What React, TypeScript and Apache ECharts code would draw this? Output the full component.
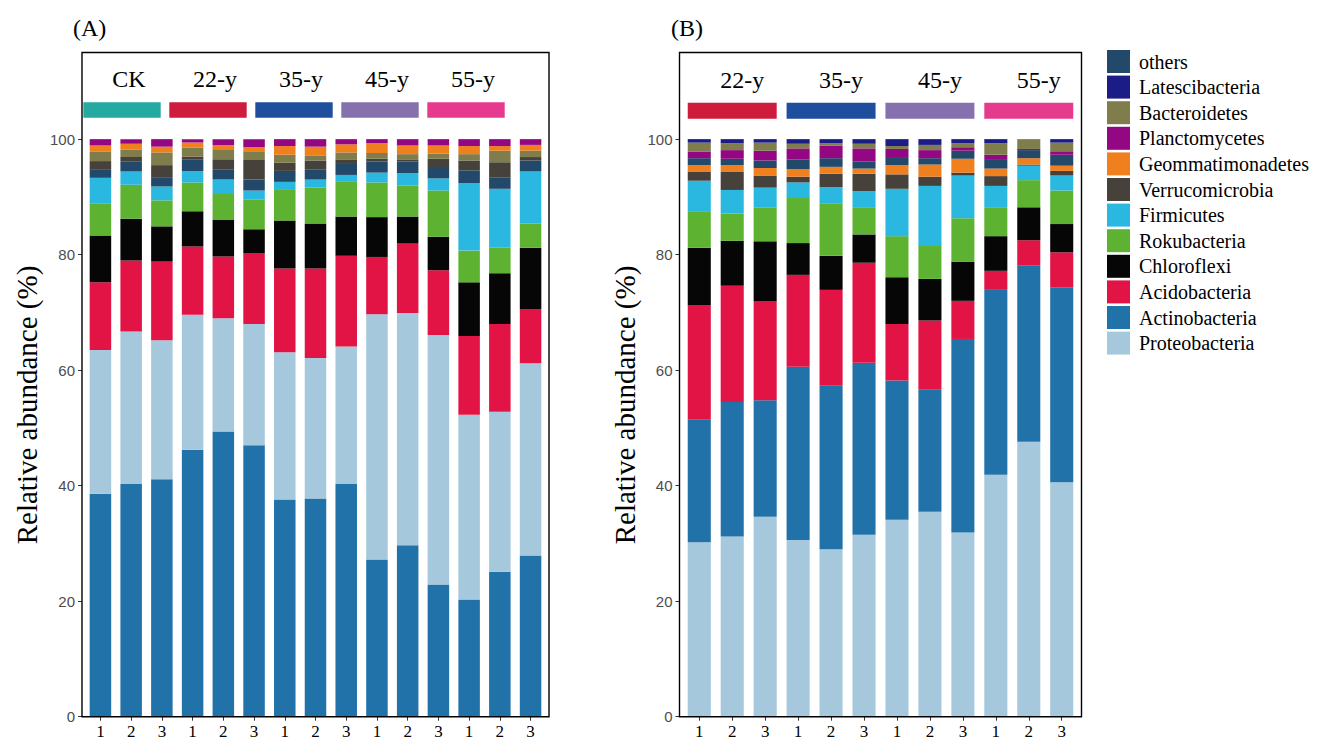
import React, { useEffect, useRef } from "react";
import * as echarts from "echarts";

// ---------- data ----------
// Panel (A): 15 samples (CK, 22-y, 35-y, 45-y, 55-y; three replicates each)
const samplesA = [
  "CK-1", "CK-2", "CK-3", "22-y-1", "22-y-2", "22-y-3", "35-y-1", "35-y-2", "35-y-3",
  "45-y-1", "45-y-2", "45-y-3", "55-y-1", "55-y-2", "55-y-3",
];
const replicateA = ["1", "2", "3", "1", "2", "3", "1", "2", "3", "1", "2", "3", "1", "2", "3"];
const groupsA = ["CK", "22-y", "35-y", "45-y", "55-y"];

const actinobacteriaA = [38.6, 40.3, 41.1, 46.2, 49.4, 47.0, 37.6, 37.8, 40.3, 27.2, 29.7, 22.9, 20.3, 25.1, 27.9];
const proteobacteriaA = [24.9, 26.4, 24.1, 23.4, 19.6, 21.0, 25.5, 24.3, 23.8, 42.5, 40.2, 43.2, 32.0, 27.7, 33.3];
const acidobacteriaA = [11.7, 12.3, 13.6, 11.8, 10.7, 12.3, 14.5, 15.5, 15.7, 9.9, 12.1, 11.2, 13.6, 15.2, 9.4];
const chloroflexiA = [8.1, 7.2, 6.1, 6.1, 6.3, 4.1, 8.3, 7.8, 6.8, 6.9, 4.6, 5.8, 9.3, 8.8, 10.6];
const rokubacteriaA = [5.5, 5.9, 4.5, 5.0, 4.5, 5.1, 5.3, 6.2, 6.0, 6.0, 5.4, 8.0, 5.5, 4.4, 4.2];
const firmicutesA = [4.5, 2.3, 2.4, 2.0, 2.5, 1.6, 1.4, 1.4, 1.2, 1.7, 2.1, 2.1, 11.7, 10.2, 9.0];
const othersA = [1.5, 1.7, 1.5, 2.0, 1.8, 1.9, 1.9, 1.7, 1.9, 1.9, 2.0, 1.8, 2.2, 2.0, 1.9];
const verrucomicrobiaA = [1.4, 0.8, 2.2, 0.5, 1.7, 3.4, 1.4, 1.6, 0.8, 0.5, 0.3, 1.6, 1.7, 2.6, 0.6];
const bacteroidetesA = [1.6, 1.3, 2.2, 1.5, 1.6, 1.5, 1.4, 0.8, 1.2, 1.0, 1.0, 0.9, 1.1, 2.0, 1.1];
const geommatimonadetesA = [1.1, 1.0, 1.0, 0.9, 0.9, 0.7, 1.5, 1.6, 1.4, 1.7, 1.5, 1.4, 1.4, 0.8, 1.0];
const planctomycetesA = [1.1, 0.8, 1.3, 0.6, 1.0, 1.4, 1.2, 1.3, 0.9, 0.7, 1.1, 1.1, 1.2, 1.2, 1.0];

// Panel (B): 12 samples (22-y, 35-y, 45-y, 55-y; three replicates each)
const samplesB = [
  "22-y-1", "22-y-2", "22-y-3", "35-y-1", "35-y-2", "35-y-3",
  "45-y-1", "45-y-2", "45-y-3", "55-y-1", "55-y-2", "55-y-3",
];
const replicateB = ["1", "2", "3", "1", "2", "3", "1", "2", "3", "1", "2", "3"];
const groupsB = ["22-y", "35-y", "45-y", "55-y"];

const proteobacteriaB = [30.2, 31.2, 34.6, 30.6, 29.0, 31.5, 34.1, 35.5, 31.9, 41.9, 47.6, 40.6];
const actinobacteriaB = [21.2, 23.3, 20.2, 30.0, 28.3, 29.8, 24.1, 21.1, 33.5, 32.0, 30.5, 33.7];
const acidobacteriaB = [19.9, 20.1, 17.1, 15.9, 16.6, 17.3, 9.8, 12.0, 6.6, 3.3, 4.4, 6.1];
const chloroflexiB = [9.9, 7.8, 10.4, 5.5, 5.9, 4.9, 8.1, 7.2, 6.8, 6.0, 5.7, 4.9];
const rokubacteriaB = [6.2, 4.7, 5.9, 7.8, 9.0, 4.6, 7.1, 5.7, 7.5, 4.9, 4.7, 5.8];
const firmicutesB = [5.4, 4.1, 3.4, 2.7, 2.9, 2.9, 8.2, 10.4, 7.4, 3.8, 2.5, 2.6];
const verrucomicrobiaB = [1.6, 3.2, 2.1, 1.0, 2.3, 3.0, 2.5, 1.6, 0.5, 1.7, 0.2, 0.8];
const geommatimonadetesB = [1.1, 1.1, 1.3, 1.3, 1.2, 0.9, 1.6, 2.1, 2.4, 1.3, 1.1, 0.9];
const othersB = [1.2, 1.1, 1.3, 1.7, 1.5, 1.2, 1.4, 1.1, 1.4, 1.5, 1.4, 1.9];
const planctomycetesB = [1.1, 1.5, 1.7, 1.9, 2.2, 2.3, 1.4, 1.4, 0.6, 0.9, 0.2, 0.6];
const bacteroidetesB = [1.6, 1.2, 1.4, 0.8, 0.4, 0.8, 0.5, 0.9, 0.7, 2.0, 1.7, 1.5];
const latescibacteriaB = [0.6, 0.7, 0.6, 0.8, 0.7, 0.8, 1.2, 1.0, 0.7, 0.7, 0.0, 0.6];

const yTicks = [0, 20, 40, 60, 80, 100];
const legendOrder = [
  "others", "Latescibacteria", "Bacteroidetes", "Planctomycetes", "Geommatimonadetes",
  "Verrucomicrobia", "Firmicutes", "Rokubacteria", "Chloroflexi", "Acidobacteria",
  "Actinobacteria", "Proteobacteria",
];

// ---------- styles ----------
const phylumColors: Record<string, string> = {
  others: "#22496a",
  Latescibacteria: "#1c1c86",
  Bacteroidetes: "#7f7d4b",
  Planctomycetes: "#930783",
  Geommatimonadetes: "#f07f1e",
  Verrucomicrobia: "#46413b",
  Firmicutes: "#2bb8e0",
  Rokubacteria: "#5db331",
  Chloroflexi: "#070606",
  Acidobacteria: "#e11445",
  Actinobacteria: "#2172a9",
  Proteobacteria: "#a5c8dc",
};
const groupColorsA = ["#25aaa2", "#cf1b3c", "#1f4e9f", "#8670ae", "#e63a8e"];
const groupColorsB = ["#cf1b3c", "#1f4e9f", "#8670ae", "#e63a8e"];

const SERIF = '"Liberation Serif", "Times New Roman", serif';
const SANS = '"Liberation Sans", Arial, sans-serif';

// panel geometry (px): frame box of each panel
const TOP = 52.5;
const HEIGHT = 664.2;
const A = { left: 82, width: 467 };
const B = { left: 679.5, width: 402 };
const BAR_FRAC = 0.7;
const EXTRA = 0.1; // extra half-unit of padding beyond the category bands, each side

export default function App() {
  const ref = useRef<HTMLDivElement>(null);

  useEffect(() => {
    document.body.style.margin = "0";
    if (!ref.current) return;
    const chart = echarts.init(ref.current, undefined, { renderer: "svg" });

    const unitA = A.width / (samplesA.length + 2 * EXTRA);
    const unitB = B.width / (samplesB.length + 2 * EXTRA);
    const insetA = EXTRA * unitA;
    const insetB = EXTRA * unitB;
    // pixel x of a (1-based) sample position in panel B
    const xB = (u: number) => B.left + insetB + (u - 0.5) * unitB;

    // stacking order, bottom to top
    const stackA: [string, number[]][] = [
      ["Actinobacteria", actinobacteriaA],
      ["Proteobacteria", proteobacteriaA],
      ["Acidobacteria", acidobacteriaA],
      ["Chloroflexi", chloroflexiA],
      ["Rokubacteria", rokubacteriaA],
      ["Firmicutes", firmicutesA],
      ["others", othersA],
      ["Verrucomicrobia", verrucomicrobiaA],
      ["Bacteroidetes", bacteroidetesA],
      ["Geommatimonadetes", geommatimonadetesA],
      ["Planctomycetes", planctomycetesA],
    ];
    const stackB: [string, number[]][] = [
      ["Proteobacteria", proteobacteriaB],
      ["Actinobacteria", actinobacteriaB],
      ["Acidobacteria", acidobacteriaB],
      ["Chloroflexi", chloroflexiB],
      ["Rokubacteria", rokubacteriaB],
      ["Firmicutes", firmicutesB],
      ["Verrucomicrobia", verrucomicrobiaB],
      ["Geommatimonadetes", geommatimonadetesB],
      ["others", othersB],
      ["Planctomycetes", planctomycetesB],
      ["Bacteroidetes", bacteroidetesB],
      ["Latescibacteria", latescibacteriaB],
    ];

    const makeSeries = (stack: [string, number[]][], key: string, axis: number) =>
      stack.map(([name, values]) => ({
        type: "bar",
        name,
        stack: key,
        xAxisIndex: axis,
        yAxisIndex: axis,
        barWidth: `${BAR_FRAC * 100}%`,
        data: values,
        itemStyle: { color: phylumColors[name] },
        emphasis: { disabled: true },
      }));

    const xAxis = (gridIndex: number, samples: string[], replicates: string[]) => ({
      gridIndex,
      type: "category",
      data: samples,
      axisLine: { show: false },
      splitLine: { show: false },
      axisTick: { show: true, length: 4, alignWithLabel: true, lineStyle: { color: "#333", width: 1 } },
      axisLabel: {
        interval: 0,
        formatter: (_: string, i: number) => replicates[i],
        fontFamily: SERIF,
        fontSize: 17,
        color: "#000",
        margin: 6,
      },
    });
    const yAxis = (gridIndex: number, inset: number) => ({
      gridIndex,
      type: "value",
      min: 0,
      max: 115,
      offset: inset,
      axisLine: { show: false },
      splitLine: { show: false },
      axisTick: { show: true, length: 4, customValues: yTicks, lineStyle: { color: "#333", width: 1 } },
      axisLabel: { customValues: yTicks, fontFamily: SANS, fontSize: 15, color: "#4d4d4d", margin: 7 },
    });

    const graphics: any[] = [];
    // panel frames
    [A, B].forEach((p) =>
      graphics.push({
        type: "rect",
        z: 100,
        silent: true,
        shape: { x: p.left, y: TOP, width: p.width, height: HEIGHT },
        style: { fill: "none", stroke: "#000", lineWidth: 1.4 },
      })
    );
    // panel tags
    graphics.push({ type: "text", x: 73, y: 28, style: { text: "(A)", font: `24px ${SERIF}`, fill: "#000", textVerticalAlign: "middle" } });
    graphics.push({ type: "text", x: 671, y: 28, style: { text: "(B)", font: `24px ${SERIF}`, fill: "#000", textVerticalAlign: "middle" } });
    // y-axis titles
    [A, B].forEach((p) =>
      graphics.push({
        type: "text",
        x: p.left - 55,
        y: 405,
        rotation: Math.PI / 2,
        style: {
          text: "Relative abundance (%)",
          font: `29px ${SERIF}`,
          fill: "#000",
          textAlign: "center",
          textVerticalAlign: "middle",
        },
      })
    );
    // group strips, panel A
    groupsA.forEach((g, i) => {
      const x0 = 83.3 + i * 86;
      graphics.push({
        type: "rect",
        shape: { x: x0, y: 102.3, width: 77.4, height: 15.4 },
        style: { fill: groupColorsA[i] },
      });
      graphics.push({
        type: "text",
        x: x0 + 77.4 / 2 + 7,
        y: 79,
        style: { text: g, font: `24px ${SERIF}`, fill: "#000", textAlign: "center", textVerticalAlign: "middle" },
      });
    });
    // group strips, panel B (span each group's three bars)
    groupsB.forEach((g, i) => {
      const x0 = xB(3 * i + 1 - BAR_FRAC / 2);
      const x1 = xB(3 * i + 3 + BAR_FRAC / 2);
      graphics.push({
        type: "rect",
        shape: { x: x0, y: 102.7, width: x1 - x0, height: 16 },
        style: { fill: groupColorsB[i] },
      });
      graphics.push({
        type: "text",
        x: (x0 + x1) / 2 + 10,
        y: 80,
        style: { text: g, font: `24px ${SERIF}`, fill: "#000", textAlign: "center", textVerticalAlign: "middle" },
      });
    });

    chart.setOption({
      animation: false,
      grid: [
        { left: A.left + insetA, top: TOP, width: A.width - 2 * insetA, height: HEIGHT, show: false },
        { left: B.left + insetB, top: TOP, width: B.width - 2 * insetB, height: HEIGHT, show: false },
      ],
      xAxis: [xAxis(0, samplesA, replicateA), xAxis(1, samplesB, replicateB)],
      yAxis: [yAxis(0, insetA), yAxis(1, insetB)],
      legend: {
        data: legendOrder,
        orient: "vertical",
        left: 1102,
        top: 45,
        icon: "rect",
        itemWidth: 23,
        itemHeight: 23,
        itemGap: 2.6,
        selectedMode: false,
        textStyle: { fontFamily: SERIF, fontSize: 20, color: "#000", lineHeight: 23, padding: [0, 0, 0, 4] },
      },
      series: [...makeSeries(stackA, "A", 0), ...makeSeries(stackB, "B", 1)],
      graphic: graphics,
    });

    return () => chart.dispose();
  }, []);

  return <div ref={ref} style={{ width: 1320, height: 740 }} />;
}
